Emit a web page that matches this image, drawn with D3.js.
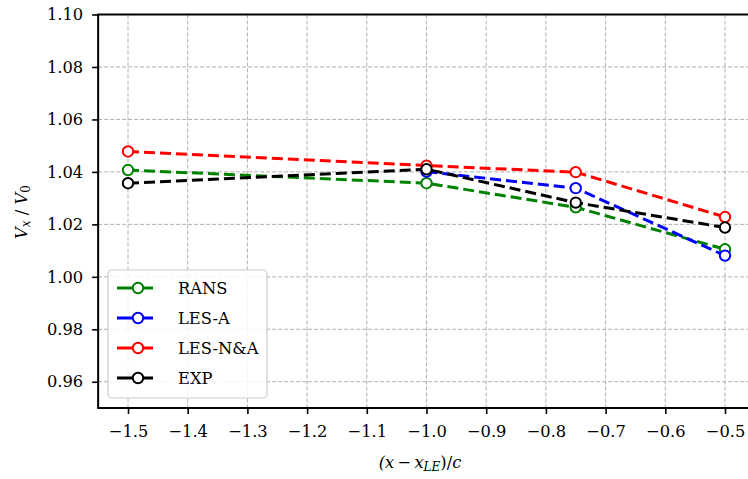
<!DOCTYPE html>
<html><head><meta charset="utf-8">
<script src="https://cdn.jsdelivr.net/npm/d3@7"></script>
<style>body{margin:0;background:#fff}svg{display:block}</style>
</head><body>
<script>
const xPositions = [-1.5, -1.0, -0.75, -0.5];
const ransValues = [1.0407, 1.0357, 1.0265, 1.0105];
const lesAX = [-1.0, -0.75, -0.5];
const lesAValues = [1.0401, 1.0338, 1.0081];
const lesNAValues = [1.0478, 1.0424, 1.0399, 1.0228];
const expValues = [1.0357, 1.0410, 1.0283, 1.0188];
const seriesNames = ["RANS", "LES-A", "LES-N&A", "EXP"];
const seriesColors = ["#008000", "#0000ff", "#ff0000", "#000000"];
const xTicks = [-1.5, -1.4, -1.3, -1.2, -1.1, -1.0, -0.9, -0.8, -0.7, -0.6, -0.5];
const yTicks = [0.96, 0.98, 1.00, 1.02, 1.04, 1.06, 1.08, 1.10];

const series = [
  {name: seriesNames[0], color: seriesColors[0], xs: xPositions, ys: ransValues},
  {name: seriesNames[1], color: seriesColors[1], xs: lesAX, ys: lesAValues},
  {name: seriesNames[2], color: seriesColors[2], xs: xPositions, ys: lesNAValues},
  {name: seriesNames[3], color: seriesColors[3], xs: xPositions, ys: expValues}
];

const W = 748, H = 479;
const FONT = "DejaVu Serif";
const FS = "16.3px";
const svg = d3.select("body").append("svg").attr("width", W).attr("height", H)
  .style("font-family", FONT);

const x = d3.scaleLinear().domain([-1.55, -0.45]).range([98.15, 754.85]);
const y = d3.scaleLinear().domain([0.95, 1.10]).range([408, 14.5]);
const L = 98.15, R = 754.85, T = 14.5, B = 408;

svg.append("defs").append("clipPath").attr("id", "clip")
  .append("rect").attr("x", L).attr("y", T).attr("width", R - L).attr("height", B - T);

// grid
const grid = svg.append("g");
grid.selectAll(".gx").data(xTicks).join("line")
  .attr("x1", d => x(d)).attr("x2", d => x(d)).attr("y1", T).attr("y2", B)
  .attr("stroke", "#b0b0b0").attr("stroke-width", 1).attr("stroke-dasharray", "4,2");
grid.selectAll(".gy").data(yTicks).join("line")
  .attr("x1", L).attr("x2", R).attr("y1", d => y(d)).attr("y2", d => y(d))
  .attr("stroke", "#b0b0b0").attr("stroke-width", 1).attr("stroke-dasharray", "4,2");

// axes
const fmtX = d => d3.format(".1f")(d).replace("-", "\u2212");
const fmtY = d => d3.format(".2f")(d);
const xAxis = svg.append("g").attr("transform", `translate(0,${B})`)
  .call(d3.axisBottom(x).tickValues(xTicks).tickFormat(fmtX).tickSize(6).tickPadding(11));
const yAxis = svg.append("g").attr("transform", `translate(${L},0)`)
  .call(d3.axisLeft(y).tickValues(yTicks).tickFormat(fmtY).tickSize(6).tickPadding(9));
[xAxis, yAxis].forEach(g => {
  g.select(".domain").remove();
  g.selectAll(".tick line").attr("stroke", "#000").attr("stroke-width", 1.6);
  g.selectAll(".tick text").attr("fill", "#000").style("font-family", FONT).style("font-size", FS);
});

// spines
svg.append("line").attr("x1", L).attr("x2", L).attr("y1", T).attr("y2", B).attr("stroke", "#000").attr("stroke-width", 2);
svg.append("line").attr("x1", L - 1).attr("x2", R).attr("y1", T).attr("y2", T).attr("stroke", "#000").attr("stroke-width", 2);
svg.append("line").attr("x1", L - 1).attr("x2", R).attr("y1", B).attr("y2", B).attr("stroke", "#000").attr("stroke-width", 2);

// data
const plot = svg.append("g").attr("clip-path", "url(#clip)");
const line = d3.line().x(d => x(d[0])).y(d => y(d[1]));
series.forEach(s => {
  const pts = s.xs.map((xv, i) => [xv, s.ys[i]]);
  const g = plot.append("g");
  g.append("path").attr("d", line(pts)).attr("fill", "none")
    .attr("stroke", s.color).attr("stroke-width", 3).attr("stroke-dasharray", "11,5");
  g.selectAll("circle").data(pts).join("circle")
    .attr("cx", d => x(d[0])).attr("cy", d => y(d[1])).attr("r", 5.2)
    .attr("fill", "#fff").attr("stroke", s.color).attr("stroke-width", 2);
});

// legend
const leg = svg.append("g");
leg.append("rect").attr("x", 108).attr("y", 270).attr("width", 159).attr("height", 128).attr("rx", 4)
  .attr("fill", "#fff").attr("fill-opacity", 0.85).attr("stroke", "#cccccc").attr("stroke-width", 1.2);
series.forEach((s, i) => {
  const cy = 288 + i * 30;
  leg.append("line").attr("x1", 117).attr("x2", 153).attr("y1", cy).attr("y2", cy)
    .attr("stroke", s.color).attr("stroke-width", 3);
  leg.append("circle").attr("cx", 138).attr("cy", cy).attr("r", 5.2)
    .attr("fill", "#fff").attr("stroke", s.color).attr("stroke-width", 2);
  leg.append("text").attr("x", 178).attr("y", cy).attr("dy", "0.35em")
    .style("font-size", FS).text(s.name);
});

// axis labels
const xl = svg.append("text").attr("x", 420).attr("y", 468).attr("text-anchor", "middle").style("font-size", FS);
xl.append("tspan").attr("font-style", "italic").text("(x");
xl.append("tspan").text("\u2009\u2212\u2009");
xl.append("tspan").attr("font-style", "italic").text("x");
xl.append("tspan").attr("font-style", "italic").attr("baseline-shift", "-25%").style("font-size", "12px").text("LE");
xl.append("tspan").text(")/");
xl.append("tspan").attr("font-style", "italic").text("c");

const yl = svg.append("text").attr("transform", "translate(27,212) rotate(-90)").attr("text-anchor", "middle").style("font-size", FS);
yl.append("tspan").attr("font-style", "italic").text("V");
yl.append("tspan").attr("font-style", "italic").attr("baseline-shift", "-25%").style("font-size", "12px").text("x");
yl.append("tspan").text(" / ");
yl.append("tspan").attr("font-style", "italic").text("V");
yl.append("tspan").attr("baseline-shift", "-25%").style("font-size", "12px").text("0");
</script>
</body></html>
